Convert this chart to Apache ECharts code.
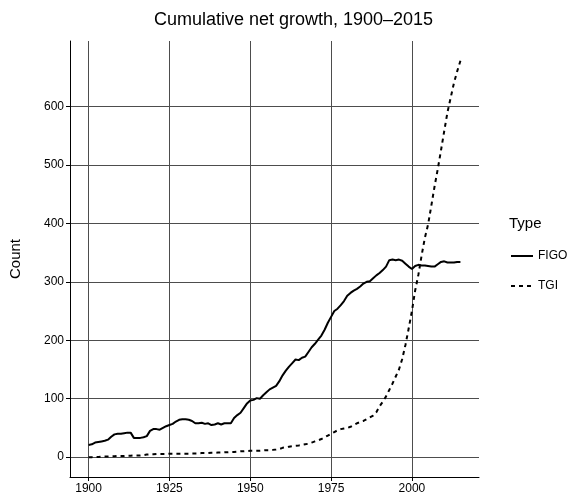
<!DOCTYPE html>
<html>
<head>
<meta charset="utf-8">
<script src="https://cdn.jsdelivr.net/npm/echarts@6/dist/echarts.min.js"></script>
<style>
html,body{margin:0;padding:0;background:#fff;}
#chart{width:587px;height:500px;}
</style>
</head>
<body>
<div id="chart"></div>
<script>
const years = [];
for (let y = 1900; y <= 2015; y++) years.push(y);

const figo = [
21,22,25,26,27,28,30,35,39,40,
40,41,42,42,33,33,33,34,36,45,
48,48,47,50,53,55,57,61,64,65,
65,64,62,58,58,59,57,58,55,56,
58,56,58,58,58,67,72,76,84,92,
97,98,101,100,106,111,116,119,122,130,
140,148,155,161,167,166,170,172,180,188,
194,201,208,218,230,240,250,254,260,267,
276,281,285,288,292,297,300,301,306,311,
315,320,326,337,338,337,338,336,331,326,
322,327,329,328,328,327,326,326,330,334,
335,333,333,333,334,334
];

const tgi = [
0,0,0.5,0.5,1,1,1,1.5,1.5,2,
2,2,2.5,2.5,3,3,3,3.5,4.5,5,
5,5.5,5.5,5.5,5.5,6,6,6,6,6,
6,6,6.5,6.5,6.5,7,7,7,7.5,7.5,
8,8,8.5,8.5,9,9,9.5,10,10,10.5,
11,11,11,11,11.5,12,12,12.5,13,14,
16,17,18,19,19.5,20,21,22,23,25,
27,29,31,34,37,40,43,46,48,49,
50,52,55,58,60,62,65,68,71,77,
87,95,104,115,126,138,150,168,192,220,
250,285,312,345,375,398,430,463,493,525,
558,590,615,640,660,678
];

const xTicks = [1900, 1925, 1950, 1975, 2000];
const yTicks = [0, 100, 200, 300, 400, 500, 600];

const xMin = 1900 - 0.05 * (2015 - 1900);
const xMax = 2015 + 0.05 * (2015 - 1900);
const yMaxData = 678;
const yMin = 0 - 0.05 * yMaxData;
const yMax = yMaxData + 0.05 * yMaxData;

const chart = echarts.init(document.getElementById('chart'), null, {renderer: 'canvas'});
const font = 'Liberation Sans, Arial, sans-serif';
const option = {
  animation: false,
  backgroundColor: '#ffffff',
  title: {
    text: 'Cumulative net growth, 1900\u20132015',
    left: 'center',
    top: 6,
    textStyle: {fontFamily: font, fontSize: 18, fontWeight: 'normal', color: '#000'}
  },
  graphic: [{
    type: 'text',
    left: 509,
    top: 216,
    style: {text: 'Type', fontFamily: font, fontSize: 15, fill: '#000'}
  }],
  legend: {
    orient: 'vertical',
    left: 510,
    top: 250,
    padding: 0,
    itemWidth: 22,
    itemHeight: 14,
    itemGap: 18,
    itemStyle: {opacity: 0},
    textStyle: {fontFamily: font, fontSize: 12, color: '#000'},
    data: ['FIGO', 'TGI']
  },
  grid: {left: 70, right: 108, top: 41, bottom: 23, containLabel: false, outerBoundsMode: 'none'},
  xAxis: {
    type: 'value',
    min: xMin,
    max: xMax,
    axisLine: {show: true, onZero: false, lineStyle: {color: '#000', width: 1}},
    axisTick: {show: true, length: 4, customValues: xTicks, lineStyle: {color: '#000'}},
    axisLabel: {customValues: xTicks, margin: 6, fontFamily: font, fontSize: 12, color: '#000', formatter: v => String(v)},
    splitLine: {show: true, lineStyle: {color: '#4d4d4d', width: 1}}
  },
  yAxis: {
    type: 'value',
    min: yMin,
    max: yMax,
    name: 'Count',
    nameLocation: 'middle',
    nameRotate: 90,
    nameGap: 47,
    nameTextStyle: {fontFamily: font, fontSize: 15, color: '#000'},
    axisLine: {show: true, onZero: false, lineStyle: {color: '#000', width: 1}},
    axisTick: {show: true, length: 4, customValues: yTicks, lineStyle: {color: '#000'}},
    axisLabel: {customValues: yTicks, margin: 6, fontFamily: font, fontSize: 12, color: '#000'},
    splitLine: {show: true, lineStyle: {color: '#4d4d4d', width: 1}}
  },
  series: [
    {
      name: 'FIGO',
      type: 'line',
      symbol: 'none',
      data: years.map((y, i) => [y, figo[i]]),
      lineStyle: {color: '#000', width: 2},
      itemStyle: {color: '#000'}
    },
    {
      name: 'TGI',
      type: 'line',
      symbol: 'none',
      data: years.map((y, i) => [y, tgi[i]]),
      lineStyle: {color: '#000', width: 2, type: [4, 4]},
      itemStyle: {color: '#000'}
    }
  ]
};
chart.setOption(option);
</script>
</body>
</html>
